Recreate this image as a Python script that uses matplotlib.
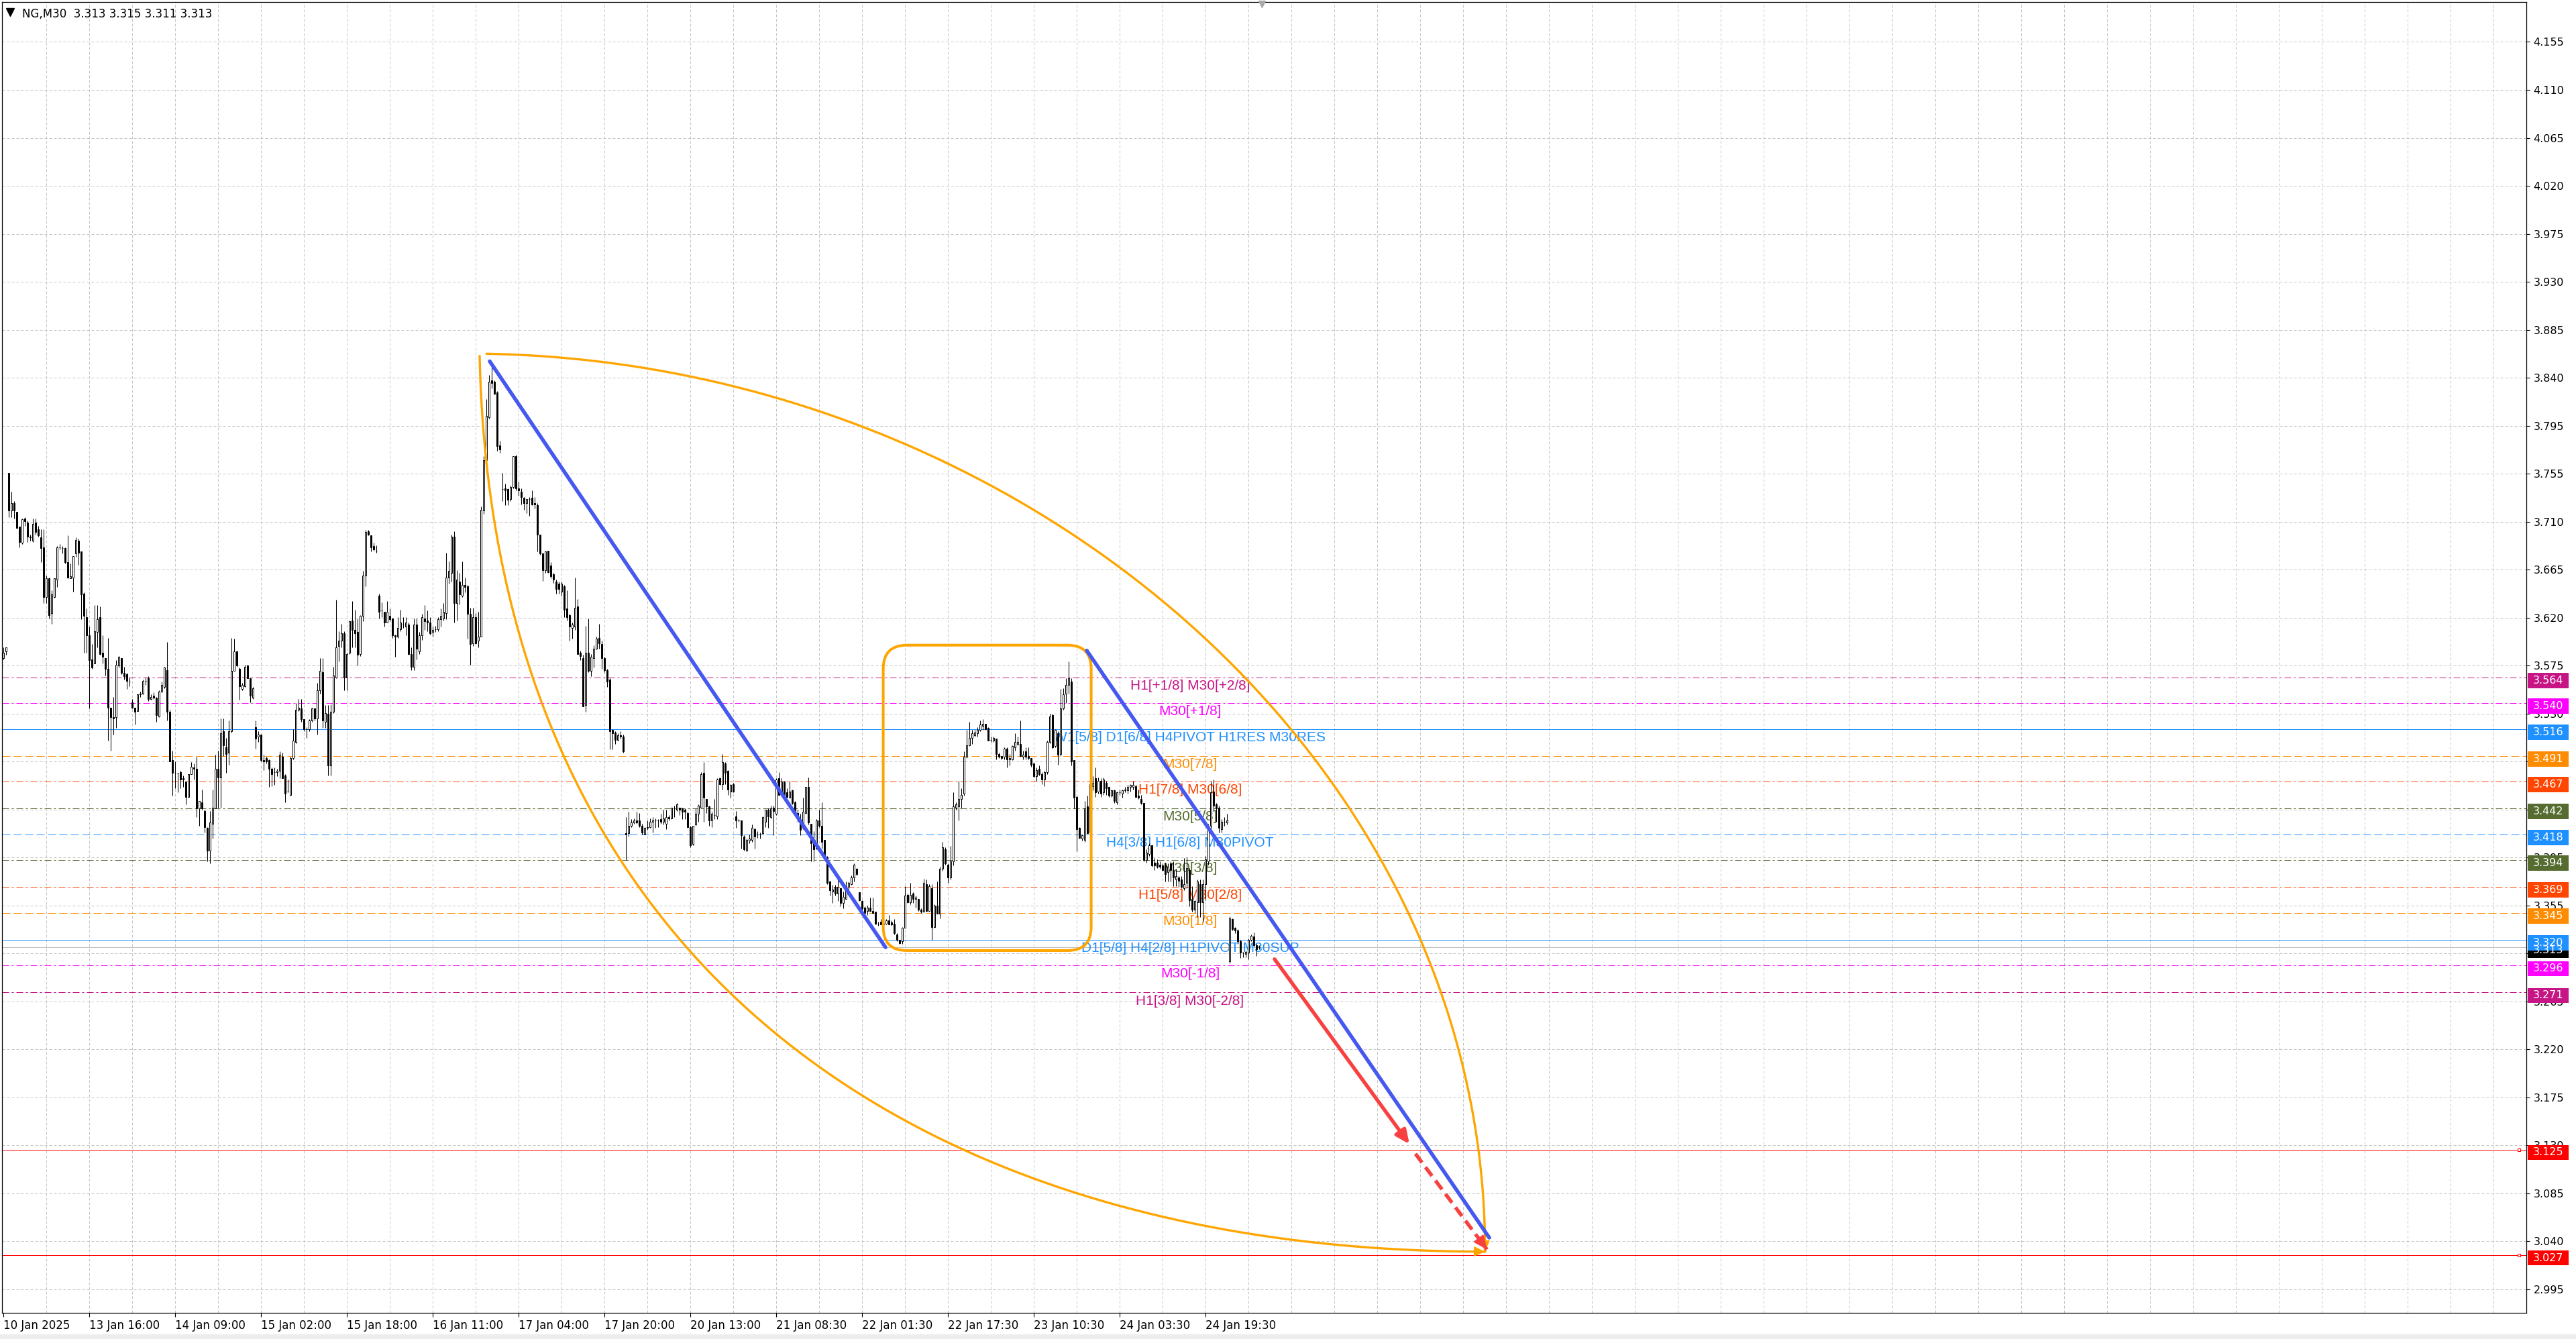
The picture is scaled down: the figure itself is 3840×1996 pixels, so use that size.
import numpy as np
import matplotlib
matplotlib.use('Agg')
import matplotlib.pyplot as plt
import matplotlib.transforms as mtransforms
from matplotlib.patches import FancyBboxPatch, FancyArrowPatch, Rectangle

# NG, M30 candles (bar 0 = 10 Jan 23:00 ... bar 468 = 27 Jan 06:30)
opens = [
    3.582, 3.588, 3.754, 3.719, 3.726, 3.718, 3.704, 3.689, 3.712, 3.708,
    3.695, 3.691, 3.708, 3.702, 3.694, 3.685, 3.639, 3.656, 3.624, 3.639,
    3.655, 3.685, 3.684, 3.684, 3.671, 3.656, 3.657, 3.679, 3.691, 3.681,
    3.642, 3.620, 3.603, 3.581, 3.577, 3.606, 3.620, 3.587, 3.582, 3.572,
    3.536, 3.527, 3.527, 3.575, 3.582, 3.568, 3.567, 3.560, 3.541, 3.536,
    3.533, 3.548, 3.549, 3.561, 3.563, 3.544, 3.547, 3.545, 3.528, 3.551,
    3.555, 3.571, 3.532, 3.487, 3.475, 3.475, 3.476, 3.470, 3.467, 3.453,
    3.474, 3.480, 3.479, 3.442, 3.448, 3.440, 3.424, 3.403, 3.428, 3.442,
    3.479, 3.471, 3.514, 3.499, 3.494, 3.514, 3.570, 3.588, 3.572, 3.553,
    3.556, 3.575, 3.563, 3.545, 3.518, 3.509, 3.511, 3.487, 3.489, 3.487,
    3.479, 3.476, 3.476, 3.477, 3.490, 3.473, 3.458, 3.455, 3.489, 3.504,
    3.534, 3.535, 3.525, 3.516, 3.516, 3.524, 3.535, 3.526, 3.552, 3.569,
    3.523, 3.530, 3.482, 3.532, 3.564, 3.593, 3.598, 3.605, 3.564, 3.587,
    3.617, 3.608, 3.606, 3.586, 3.621, 3.659, 3.700, 3.696, 3.686, 3.682,
    3.640, 3.626, 3.625, 3.615, 3.621, 3.619, 3.603, 3.602, 3.609, 3.613,
    3.611, 3.613, 3.586, 3.574, 3.613, 3.588, 3.603, 3.619, 3.617, 3.615,
    3.606, 3.609, 3.609, 3.618, 3.619, 3.624, 3.657, 3.661, 3.695, 3.633,
    3.653, 3.640, 3.650, 3.649, 3.623, 3.596, 3.620, 3.598, 3.602, 3.719,
    3.766, 3.806, 3.840, 3.839, 3.829, 3.780, 3.739, 3.740, 3.739, 3.730,
    3.741, 3.770, 3.740, 3.737, 3.731, 3.726, 3.730, 3.731, 3.726, 3.724,
    3.697, 3.679, 3.664, 3.682, 3.668, 3.660, 3.653, 3.651, 3.644, 3.649,
    3.628, 3.622, 3.610, 3.611, 3.630, 3.587, 3.582, 3.538, 3.587, 3.570,
    3.582, 3.591, 3.601, 3.595, 3.582, 3.571, 3.562, 3.515, 3.513, 3.506,
    3.510, 3.509, 3.419, 3.419, 3.426, 3.429, 3.431, 3.431, 3.426, 3.418,
    3.424, 3.425, 3.430, 3.431, 3.431, 3.432, 3.430, 3.428, 3.434, 3.433,
    3.442, 3.441, 3.443, 3.442, 3.441, 3.438, 3.425, 3.409, 3.427, 3.437,
    3.443, 3.475, 3.451, 3.444, 3.431, 3.436, 3.435, 3.470, 3.465, 3.484,
    3.477, 3.458, 3.465, 3.435, 3.431, 3.431, 3.416, 3.403, 3.412, 3.413,
    3.423, 3.418, 3.418, 3.419, 3.430, 3.441, 3.434, 3.443, 3.437, 3.470,
    3.456, 3.467, 3.457, 3.452, 3.459, 3.448, 3.438, 3.432, 3.424, 3.438,
    3.462, 3.428, 3.412, 3.405, 3.431, 3.426, 3.413, 3.397, 3.374, 3.365,
    3.369, 3.363, 3.368, 3.354, 3.358, 3.369, 3.372, 3.378, 3.386, 3.364,
    3.356, 3.350, 3.347, 3.350, 3.347, 3.346, 3.335, 3.337, 3.334, 3.335,
    3.338, 3.336, 3.335, 3.325, 3.320, 3.319, 3.331, 3.362, 3.355, 3.363,
    3.358, 3.358, 3.348, 3.346, 3.372, 3.347, 3.368, 3.332, 3.352, 3.344,
    3.386, 3.404, 3.390, 3.378, 3.393, 3.443, 3.444, 3.451, 3.456, 3.490,
    3.501, 3.508, 3.510, 3.512, 3.515, 3.519, 3.521, 3.517, 3.506, 3.505,
    3.507, 3.493, 3.491, 3.490, 3.498, 3.488, 3.488, 3.499, 3.502, 3.502,
    3.490, 3.495, 3.491, 3.489, 3.484, 3.472, 3.479, 3.474, 3.469, 3.476,
    3.504, 3.529, 3.500, 3.512, 3.493, 3.535, 3.549, 3.557, 3.560, 3.487,
    3.453, 3.424, 3.414, 3.413, 3.444, 3.420, 3.463, 3.470, 3.458, 3.468,
    3.457, 3.466, 3.462, 3.454, 3.459, 3.448, 3.457, 3.456, 3.459, 3.459,
    3.462, 3.462, 3.463, 3.454, 3.451, 3.447, 3.394, 3.400, 3.408, 3.392,
    3.392, 3.390, 3.389, 3.389, 3.383, 3.391, 3.385, 3.376, 3.378, 3.376,
    3.368, 3.373, 3.385, 3.358, 3.348, 3.355, 3.372, 3.355, 3.372, 3.393,
    3.426, 3.458, 3.446, 3.443, 3.423, 3.429, 3.429, 3.300, 3.339, 3.331,
    3.329, 3.319, 3.308, 3.307, 3.308, 3.320, 3.323, 3.315, 3.313,
]
highs = [
    3.592, 3.592, 3.754, 3.737, 3.728, 3.718, 3.704, 3.712, 3.713, 3.710,
    3.697, 3.712, 3.712, 3.705, 3.702, 3.702, 3.659, 3.657, 3.645, 3.656,
    3.686, 3.688, 3.686, 3.685, 3.696, 3.670, 3.677, 3.694, 3.693, 3.681,
    3.643, 3.628, 3.611, 3.595, 3.631, 3.631, 3.630, 3.603, 3.582, 3.601,
    3.536, 3.546, 3.580, 3.584, 3.582, 3.574, 3.568, 3.564, 3.544, 3.536,
    3.548, 3.551, 3.562, 3.564, 3.565, 3.548, 3.550, 3.546, 3.552, 3.560,
    3.574, 3.597, 3.534, 3.496, 3.486, 3.475, 3.477, 3.473, 3.467, 3.474,
    3.485, 3.484, 3.490, 3.449, 3.460, 3.441, 3.425, 3.440, 3.460, 3.492,
    3.496, 3.526, 3.526, 3.508, 3.524, 3.601, 3.600, 3.589, 3.573, 3.559,
    3.576, 3.576, 3.564, 3.555, 3.524, 3.514, 3.511, 3.492, 3.490, 3.488,
    3.480, 3.480, 3.479, 3.495, 3.494, 3.474, 3.469, 3.490, 3.516, 3.540,
    3.544, 3.544, 3.525, 3.518, 3.525, 3.536, 3.535, 3.559, 3.582, 3.582,
    3.538, 3.538, 3.539, 3.574, 3.636, 3.607, 3.614, 3.607, 3.587, 3.617,
    3.635, 3.627, 3.619, 3.622, 3.663, 3.701, 3.701, 3.696, 3.689, 3.687,
    3.642, 3.634, 3.625, 3.635, 3.628, 3.619, 3.604, 3.620, 3.627, 3.620,
    3.620, 3.615, 3.592, 3.619, 3.619, 3.606, 3.623, 3.631, 3.626, 3.620,
    3.611, 3.612, 3.620, 3.628, 3.633, 3.680, 3.672, 3.697, 3.700, 3.664,
    3.661, 3.672, 3.657, 3.650, 3.629, 3.629, 3.624, 3.625, 3.723, 3.770,
    3.823, 3.845, 3.853, 3.840, 3.830, 3.784, 3.754, 3.744, 3.740, 3.742,
    3.770, 3.771, 3.746, 3.740, 3.732, 3.730, 3.732, 3.738, 3.732, 3.726,
    3.697, 3.680, 3.682, 3.682, 3.671, 3.661, 3.655, 3.653, 3.653, 3.650,
    3.645, 3.623, 3.615, 3.657, 3.637, 3.589, 3.585, 3.612, 3.619, 3.586,
    3.594, 3.602, 3.614, 3.598, 3.583, 3.572, 3.563, 3.516, 3.514, 3.512,
    3.514, 3.511, 3.434, 3.439, 3.432, 3.433, 3.439, 3.438, 3.428, 3.425,
    3.431, 3.433, 3.434, 3.433, 3.432, 3.437, 3.441, 3.441, 3.436, 3.443,
    3.445, 3.447, 3.443, 3.443, 3.442, 3.439, 3.426, 3.426, 3.442, 3.446,
    3.476, 3.485, 3.451, 3.445, 3.439, 3.451, 3.470, 3.471, 3.493, 3.485,
    3.478, 3.465, 3.466, 3.440, 3.432, 3.431, 3.417, 3.414, 3.418, 3.427,
    3.424, 3.421, 3.420, 3.435, 3.441, 3.442, 3.445, 3.445, 3.470, 3.476,
    3.470, 3.468, 3.461, 3.468, 3.460, 3.449, 3.441, 3.437, 3.452, 3.462,
    3.471, 3.428, 3.421, 3.432, 3.441, 3.448, 3.413, 3.398, 3.375, 3.371,
    3.371, 3.376, 3.368, 3.365, 3.374, 3.374, 3.380, 3.391, 3.387, 3.364,
    3.357, 3.351, 3.352, 3.359, 3.359, 3.346, 3.337, 3.339, 3.337, 3.339,
    3.343, 3.338, 3.339, 3.326, 3.320, 3.332, 3.370, 3.363, 3.373, 3.364,
    3.361, 3.358, 3.349, 3.377, 3.376, 3.372, 3.372, 3.353, 3.374, 3.388,
    3.411, 3.406, 3.391, 3.407, 3.457, 3.448, 3.468, 3.461, 3.495, 3.515,
    3.523, 3.515, 3.515, 3.518, 3.524, 3.525, 3.521, 3.518, 3.509, 3.509,
    3.507, 3.494, 3.491, 3.499, 3.499, 3.493, 3.501, 3.512, 3.509, 3.524,
    3.496, 3.499, 3.499, 3.489, 3.484, 3.480, 3.482, 3.476, 3.477, 3.505,
    3.530, 3.530, 3.516, 3.514, 3.553, 3.554, 3.563, 3.579, 3.563, 3.487,
    3.454, 3.425, 3.418, 3.449, 3.454, 3.468, 3.472, 3.480, 3.471, 3.470,
    3.471, 3.468, 3.462, 3.460, 3.460, 3.458, 3.460, 3.460, 3.462, 3.464,
    3.465, 3.468, 3.464, 3.460, 3.455, 3.447, 3.404, 3.410, 3.408, 3.396,
    3.395, 3.393, 3.391, 3.392, 3.391, 3.393, 3.393, 3.386, 3.379, 3.379,
    3.396, 3.397, 3.387, 3.370, 3.357, 3.376, 3.376, 3.376, 3.398, 3.428,
    3.468, 3.469, 3.447, 3.445, 3.432, 3.434, 3.437, 3.342, 3.340, 3.332,
    3.330, 3.320, 3.309, 3.310, 3.321, 3.325, 3.327, 3.316, 3.315,
]
lows = [
    3.581, 3.585, 3.713, 3.713, 3.712, 3.703, 3.685, 3.688, 3.705, 3.690,
    3.691, 3.690, 3.697, 3.695, 3.671, 3.633, 3.633, 3.619, 3.614, 3.638,
    3.648, 3.683, 3.679, 3.670, 3.656, 3.656, 3.644, 3.676, 3.669, 3.618,
    3.587, 3.587, 3.535, 3.572, 3.577, 3.592, 3.585, 3.577, 3.566, 3.505,
    3.496, 3.511, 3.517, 3.573, 3.567, 3.562, 3.553, 3.556, 3.535, 3.520,
    3.533, 3.546, 3.548, 3.557, 3.542, 3.543, 3.544, 3.523, 3.527, 3.550,
    3.554, 3.524, 3.486, 3.454, 3.461, 3.457, 3.461, 3.462, 3.446, 3.453,
    3.474, 3.469, 3.434, 3.426, 3.441, 3.420, 3.393, 3.391, 3.414, 3.442,
    3.443, 3.443, 3.491, 3.475, 3.483, 3.513, 3.570, 3.574, 3.543, 3.552,
    3.555, 3.563, 3.541, 3.544, 3.498, 3.504, 3.486, 3.478, 3.484, 3.462,
    3.463, 3.464, 3.472, 3.470, 3.470, 3.448, 3.457, 3.454, 3.488, 3.503,
    3.533, 3.523, 3.514, 3.508, 3.514, 3.523, 3.524, 3.511, 3.549, 3.517,
    3.517, 3.473, 3.473, 3.531, 3.563, 3.579, 3.592, 3.552, 3.552, 3.586,
    3.592, 3.592, 3.575, 3.584, 3.616, 3.649, 3.696, 3.681, 3.682, 3.680,
    3.619, 3.620, 3.611, 3.615, 3.616, 3.601, 3.583, 3.601, 3.607, 3.610,
    3.603, 3.585, 3.571, 3.571, 3.581, 3.586, 3.599, 3.608, 3.607, 3.604,
    3.602, 3.606, 3.607, 3.611, 3.617, 3.618, 3.651, 3.653, 3.615, 3.617,
    3.632, 3.639, 3.643, 3.600, 3.576, 3.593, 3.595, 3.592, 3.602, 3.716,
    3.756, 3.805, 3.833, 3.827, 3.775, 3.773, 3.728, 3.724, 3.724, 3.728,
    3.740, 3.738, 3.733, 3.725, 3.720, 3.717, 3.714, 3.724, 3.721, 3.681,
    3.678, 3.654, 3.661, 3.661, 3.656, 3.652, 3.642, 3.642, 3.640, 3.620,
    3.617, 3.598, 3.600, 3.608, 3.586, 3.580, 3.537, 3.532, 3.569, 3.565,
    3.573, 3.590, 3.591, 3.572, 3.569, 3.555, 3.497, 3.497, 3.502, 3.505,
    3.507, 3.494, 3.394, 3.416, 3.425, 3.428, 3.428, 3.425, 3.418, 3.418,
    3.422, 3.424, 3.420, 3.424, 3.425, 3.428, 3.427, 3.423, 3.431, 3.432,
    3.434, 3.440, 3.436, 3.432, 3.432, 3.424, 3.406, 3.408, 3.426, 3.430,
    3.442, 3.430, 3.438, 3.426, 3.425, 3.432, 3.432, 3.464, 3.460, 3.465,
    3.455, 3.452, 3.457, 3.424, 3.430, 3.405, 3.403, 3.402, 3.410, 3.411,
    3.405, 3.415, 3.414, 3.418, 3.425, 3.424, 3.433, 3.417, 3.436, 3.454,
    3.454, 3.453, 3.452, 3.452, 3.446, 3.437, 3.430, 3.417, 3.423, 3.437,
    3.427, 3.393, 3.393, 3.404, 3.425, 3.405, 3.396, 3.372, 3.361, 3.354,
    3.361, 3.356, 3.351, 3.349, 3.358, 3.367, 3.371, 3.374, 3.380, 3.356,
    3.345, 3.344, 3.343, 3.346, 3.344, 3.334, 3.333, 3.334, 3.333, 3.334,
    3.334, 3.333, 3.325, 3.319, 3.316, 3.316, 3.331, 3.354, 3.353, 3.354,
    3.350, 3.347, 3.345, 3.346, 3.346, 3.346, 3.320, 3.331, 3.344, 3.340,
    3.384, 3.390, 3.373, 3.376, 3.389, 3.441, 3.431, 3.443, 3.454, 3.489,
    3.500, 3.502, 3.509, 3.509, 3.514, 3.515, 3.515, 3.505, 3.504, 3.504,
    3.488, 3.489, 3.488, 3.488, 3.480, 3.482, 3.487, 3.496, 3.501, 3.490,
    3.488, 3.488, 3.488, 3.481, 3.471, 3.468, 3.473, 3.465, 3.463, 3.474,
    3.503, 3.498, 3.499, 3.483, 3.491, 3.534, 3.540, 3.549, 3.482, 3.442,
    3.402, 3.414, 3.412, 3.411, 3.419, 3.418, 3.459, 3.453, 3.456, 3.453,
    3.455, 3.455, 3.453, 3.453, 3.447, 3.446, 3.455, 3.452, 3.457, 3.456,
    3.458, 3.460, 3.452, 3.451, 3.446, 3.393, 3.392, 3.398, 3.388, 3.385,
    3.387, 3.386, 3.384, 3.374, 3.374, 3.374, 3.370, 3.370, 3.369, 3.368,
    3.366, 3.368, 3.351, 3.346, 3.345, 3.341, 3.341, 3.337, 3.357, 3.390,
    3.422, 3.440, 3.430, 3.420, 3.420, 3.426, 3.427, 3.298, 3.329, 3.326,
    3.316, 3.303, 3.304, 3.304, 3.302, 3.319, 3.314, 3.305, 3.311,
]
closes = [
    3.587, 3.592, 3.719, 3.726, 3.719, 3.703, 3.690, 3.711, 3.709, 3.695,
    3.694, 3.707, 3.699, 3.696, 3.684, 3.639, 3.656, 3.622, 3.641, 3.656,
    3.685, 3.685, 3.684, 3.671, 3.657, 3.658, 3.677, 3.692, 3.680, 3.641,
    3.621, 3.603, 3.580, 3.573, 3.607, 3.618, 3.586, 3.583, 3.572, 3.536,
    3.527, 3.526, 3.576, 3.583, 3.568, 3.565, 3.561, 3.560, 3.536, 3.532,
    3.548, 3.549, 3.561, 3.561, 3.544, 3.546, 3.545, 3.529, 3.551, 3.557,
    3.573, 3.532, 3.486, 3.475, 3.475, 3.475, 3.469, 3.469, 3.453, 3.474,
    3.481, 3.479, 3.442, 3.449, 3.442, 3.425, 3.403, 3.429, 3.443, 3.479,
    3.471, 3.512, 3.501, 3.493, 3.514, 3.570, 3.588, 3.575, 3.556, 3.557,
    3.574, 3.563, 3.547, 3.554, 3.507, 3.511, 3.487, 3.486, 3.486, 3.479,
    3.474, 3.476, 3.477, 3.492, 3.470, 3.456, 3.458, 3.489, 3.505, 3.534,
    3.536, 3.525, 3.516, 3.516, 3.524, 3.535, 3.526, 3.552, 3.570, 3.524,
    3.531, 3.482, 3.532, 3.566, 3.592, 3.598, 3.605, 3.564, 3.586, 3.616,
    3.608, 3.605, 3.585, 3.621, 3.659, 3.699, 3.697, 3.685, 3.683, 3.682,
    3.625, 3.626, 3.615, 3.625, 3.618, 3.603, 3.602, 3.610, 3.615, 3.613,
    3.615, 3.586, 3.574, 3.613, 3.591, 3.603, 3.620, 3.616, 3.615, 3.605,
    3.608, 3.609, 3.618, 3.621, 3.625, 3.657, 3.663, 3.695, 3.633, 3.655,
    3.641, 3.650, 3.648, 3.623, 3.595, 3.620, 3.596, 3.602, 3.720, 3.766,
    3.807, 3.839, 3.838, 3.828, 3.779, 3.776, 3.739, 3.738, 3.729, 3.741,
    3.770, 3.740, 3.738, 3.732, 3.726, 3.730, 3.730, 3.725, 3.725, 3.697,
    3.679, 3.664, 3.681, 3.662, 3.658, 3.655, 3.646, 3.646, 3.651, 3.627,
    3.620, 3.611, 3.613, 3.629, 3.586, 3.584, 3.537, 3.587, 3.570, 3.583,
    3.591, 3.600, 3.596, 3.582, 3.571, 3.560, 3.514, 3.512, 3.506, 3.510,
    3.509, 3.495, 3.418, 3.426, 3.429, 3.431, 3.429, 3.426, 3.420, 3.424,
    3.425, 3.430, 3.431, 3.431, 3.431, 3.430, 3.433, 3.434, 3.433, 3.443,
    3.442, 3.446, 3.441, 3.439, 3.439, 3.425, 3.408, 3.426, 3.437, 3.445,
    3.474, 3.452, 3.444, 3.431, 3.437, 3.436, 3.469, 3.465, 3.485, 3.475,
    3.460, 3.464, 3.458, 3.431, 3.431, 3.417, 3.404, 3.413, 3.414, 3.424,
    3.416, 3.418, 3.418, 3.434, 3.441, 3.435, 3.442, 3.440, 3.469, 3.455,
    3.467, 3.455, 3.453, 3.458, 3.447, 3.438, 3.432, 3.422, 3.439, 3.462,
    3.429, 3.410, 3.404, 3.431, 3.426, 3.411, 3.397, 3.373, 3.366, 3.367,
    3.363, 3.369, 3.354, 3.360, 3.370, 3.373, 3.378, 3.390, 3.381, 3.357,
    3.349, 3.345, 3.350, 3.347, 3.345, 3.335, 3.335, 3.334, 3.335, 3.338,
    3.334, 3.334, 3.326, 3.320, 3.317, 3.331, 3.361, 3.355, 3.362, 3.358,
    3.359, 3.348, 3.346, 3.373, 3.347, 3.370, 3.332, 3.352, 3.344, 3.386,
    3.406, 3.391, 3.378, 3.393, 3.444, 3.446, 3.451, 3.455, 3.490, 3.501,
    3.508, 3.512, 3.513, 3.515, 3.520, 3.521, 3.516, 3.505, 3.506, 3.508,
    3.493, 3.490, 3.489, 3.498, 3.488, 3.489, 3.500, 3.504, 3.504, 3.491,
    3.492, 3.490, 3.489, 3.483, 3.472, 3.478, 3.474, 3.469, 3.476, 3.504,
    3.528, 3.499, 3.515, 3.492, 3.535, 3.548, 3.557, 3.563, 3.486, 3.452,
    3.423, 3.415, 3.417, 3.442, 3.419, 3.465, 3.466, 3.457, 3.468, 3.456,
    3.469, 3.461, 3.454, 3.459, 3.449, 3.457, 3.457, 3.459, 3.460, 3.462,
    3.464, 3.464, 3.453, 3.452, 3.447, 3.394, 3.401, 3.408, 3.389, 3.389,
    3.388, 3.388, 3.385, 3.381, 3.388, 3.385, 3.378, 3.379, 3.375, 3.369,
    3.372, 3.387, 3.357, 3.348, 3.356, 3.374, 3.355, 3.372, 3.395, 3.426,
    3.457, 3.445, 3.443, 3.424, 3.430, 3.429, 3.431, 3.340, 3.330, 3.329,
    3.319, 3.308, 3.308, 3.309, 3.320, 3.324, 3.315, 3.311, 3.313,
]

time_labels = ['10 Jan 2025', '13 Jan 16:00', '14 Jan 09:00', '15 Jan 02:00',
               '15 Jan 18:00', '16 Jan 11:00', '17 Jan 04:00', '17 Jan 20:00',
               '20 Jan 13:00', '21 Jan 08:30', '22 Jan 01:30', '22 Jan 17:30',
               '23 Jan 10:30', '24 Jan 03:30', '24 Jan 19:30']
price_labels = ['4.155', '4.110', '4.065', '4.020', '3.975', '3.930', '3.885',
                '3.840', '3.795', '3.755', '3.710', '3.665', '3.620', '3.575',
                '3.530', '3.485', '3.440', '3.395', '3.355', '3.310', '3.265',
                '3.220', '3.175', '3.130', '3.085', '3.040', '2.995']

# murrey / pivot levels
levels = [3.564, 3.540, 3.516, 3.491, 3.467, 3.442, 3.418,
          3.394, 3.369, 3.345, 3.320, 3.296, 3.271]
level_names = ['H1[+1/8] M30[+2/8]', 'M30[+1/8]',
               'W1[5/8] D1[6/8] H4PIVOT H1RES M30RES', 'M30[7/8]',
               'H1[7/8] M30[6/8]', 'M30[5/8]', 'H4[3/8] H1[6/8] M30PIVOT',
               'M30[3/8]', 'H1[5/8] M30[2/8]', 'M30[1/8]',
               'D1[5/8] H4[2/8] H1PIVOT M30SUP', 'M30[-1/8]', 'H1[3/8] M30[-2/8]']
level_colors = ['#C71585', '#FF00FF', '#1E90FF', '#FF8C00', '#FF4500', '#556B2F',
                '#1E90FF', '#556B2F', '#FF4500', '#FF8C00', '#1E90FF', '#FF00FF',
                '#C71585']
level_kinds = ['dashdot', 'dashdot', 'solid', 'dash', 'dashdot', 'dashdot', 'dash',
               'dashdot', 'dashdot', 'dash', 'solid', 'dashdot', 'dashdot']
target_levels = [3.125, 3.027]
bid = 3.313

# drawn objects: (bar index, price)
trend1_x, trend1_y = [181.25, 328.75], [3.858, 3.313]
trend2_x, trend2_y = [403.75, 553.75], [3.589, 3.043]
arrow_x, arrow_y = [473.75, 524.0], [3.302, 3.130]
dash_x, dash_y = [526.25, 552.9], [3.121, 3.032]
arc_top_x, arc_top_y = [180.0, 378.3, 552.2, 552.2], [3.865, 3.856, 3.491, 3.030]
arc_bot_x, arc_bot_y = [177.5, 182.4, 341.6, 552.2], [3.863, 3.294, 3.030, 3.030]
box_x, box_y = [327.9, 405.4], [3.310, 3.594]

n = len(closes)
o = np.array(opens); h = np.array(highs); l = np.array(lows); c = np.array(closes)
xs = np.arange(n)

fig = plt.figure(figsize=(38.4, 19.96), dpi=100, facecolor='white')
ax = fig.add_axes([3/3840, 39/1996, 3763/3840, 1954/1996])
ax.set_facecolor('white')
ax.set_xlim(-0.5, 940.25)
ax.set_ylim(2.9731, 4.1921)

# grid
tick_pos = np.linspace(4.155, 2.995, len(price_labels))
for yv in tick_pos:
    ax.axhline(yv, color='#C4C4C4', lw=0.72, ls=(0, (4, 3)), zorder=0.5)
for xv in range(16, 941, 16):
    ax.axvline(xv, color='#C4C4C4', lw=0.72, ls=(0, (4, 3)), zorder=0.5)

# level lines
dash_map = {'solid': '-', 'dash': (0, (12, 5)), 'dashdot': (0, (10, 4, 3, 4))}
for lv, col, kind in zip(levels, level_colors, level_kinds):
    ax.axhline(lv, color=col, lw=0.72, ls=dash_map[kind], zorder=1)
ax.axhline(bid, color='#BDBDBD', lw=0.72, zorder=1)
for lv in target_levels:
    ax.axhline(lv, color='#FF0000', lw=0.72, zorder=1)
    ax.plot([937.6], [lv], marker='s', ms=3.2, mfc='white', mec='#FF0000',
            mew=0.8, zorder=6)

# level captions
for lv, name, col in zip(levels, level_names, level_colors):
    ax.text(442.25, lv - 0.0019, name, ha='center', va='top', color=col,
            fontsize=15, family='Liberation Sans', zorder=2.6)

# candles
ax.vlines(xs, np.minimum(l, np.minimum(o, c)), np.maximum(h, np.maximum(o, c)),
          color='black', lw=0.75, zorder=3)
face = np.where(c >= o, 'white', 'black')
ax.bar(xs, np.abs(c - o), bottom=np.minimum(o, c), width=0.6, color=face,
       edgecolor='black', linewidth=0.7, zorder=3.5)

# orange box
aspect = 4.0 / 1603.0
rect = FancyBboxPatch((box_x[0], box_y[0]), box_x[1] - box_x[0], box_y[1] - box_y[0],
                      boxstyle='round,pad=0,rounding_size=8.8', mutation_aspect=aspect,
                      fill=False, edgecolor='#FFA500', lw=2.9, zorder=5)
ax.add_patch(rect)


def bezier(px, py, num=300):
    t = np.linspace(0, 1, num)
    b = [(1 - t) ** 3, 3 * (1 - t) ** 2 * t, 3 * (1 - t) * t ** 2, t ** 3]
    return sum(w * v for w, v in zip(b, px)), sum(w * v for w, v in zip(b, py))


for px, py in [(arc_top_x, arc_top_y), (arc_bot_x, arc_bot_y)]:
    bx, by = bezier(px, py)
    ax.plot(bx, by, color='#FFA500', lw=2.4, zorder=5, solid_capstyle='round')
    head = FancyArrowPatch((bx[-12], by[-12]), (bx[-1], by[-1]),
                           arrowstyle='-|>,head_length=1.3,head_width=0.6',
                           mutation_scale=8, color='#FFA500', lw=1.0,
                           shrinkA=0, shrinkB=0, zorder=5.1)
    ax.add_patch(head)

# blue channel lines
for tx, ty in [(trend1_x, trend1_y), (trend2_x, trend2_y)]:
    ax.plot(tx, ty, color='#4558F0', lw=4.0, solid_capstyle='round', zorder=6)

# red projection
red = '#F94040'
solid_arrow = FancyArrowPatch((arrow_x[0], arrow_y[0]), (arrow_x[1], arrow_y[1]),
                              arrowstyle='-|>,head_length=1.2,head_width=0.55',
                              mutation_scale=10, color=red, lw=3.9,
                              shrinkA=0, shrinkB=0, capstyle='round', zorder=6.5)
ax.add_patch(solid_arrow)
ax.plot(dash_x, dash_y, color=red, lw=3.9, ls=(0, (3, 1.6)), zorder=6.5)
fx = dash_x[1] - 0.15 * (dash_x[1] - dash_x[0])
fy = dash_y[1] - 0.15 * (dash_y[1] - dash_y[0])
dash_head = FancyArrowPatch((fx, fy), (dash_x[1], dash_y[1]),
                            arrowstyle='-|>,head_length=1.2,head_width=0.55',
                            mutation_scale=10, color=red, lw=2.0,
                            shrinkA=0, shrinkB=0, zorder=6.5)
ax.add_patch(dash_head)

# axes look
for sp in ax.spines.values():
    sp.set_color('black')
    sp.set_linewidth(0.9)
ax.yaxis.tick_right()
ax.set_yticks(tick_pos)
ax.set_yticklabels(price_labels)
ax.set_xticks(np.arange(len(time_labels)) * 32)
ax.set_xticklabels(time_labels)
for lab in ax.get_xticklabels():
    lab.set_ha('left')
ax.tick_params(axis='y', which='both', length=3.5, width=0.8, pad=4,
               labelsize=11.5, colors='black', left=False)
ax.tick_params(axis='x', which='both', length=4, width=0.8, pad=3,
               labelsize=12, colors='black')

# price tags on the right scale (sit a little below their line, as in MT4)
tag_tr = mtransforms.blended_transform_factory(ax.transAxes, ax.transData)
tags = [(bid, '#000000')] + list(zip(levels, level_colors)) + \
       [(v, '#FF0000') for v in target_levels]
for val, col in tags:
    mid = val - 0.0028
    ax.add_patch(Rectangle((1.0005, mid - 0.0071), 0.0162, 0.0142, transform=tag_tr,
                           facecolor=col, edgecolor='none', clip_on=False, zorder=10))
    ax.text(1.0027, mid, f'{val:.3f}', transform=tag_tr, ha='left', va='center',
            color='white', fontsize=11.5, clip_on=False, zorder=11)

# header and markers
ax.plot([0.0031], [0.9923], marker='v', ms=8, color='black', transform=ax.transAxes,
        clip_on=False, zorder=12)
ax.text(0.008, 0.9882, 'NG,M30  3.313 3.315 3.311 3.313', transform=ax.transAxes,
        ha='left', va='baseline', fontsize=12, color='black', zorder=12)
ax.plot([469], [4.1905], marker='v', ms=7, color='#A8A8A8', clip_on=False, zorder=12)

fig.patches.append(Rectangle((0, 0), 1, 7 / 1996, transform=fig.transFigure,
                             facecolor='#EDEDED', edgecolor='none'))

fig.savefig('out.png', dpi=100)
